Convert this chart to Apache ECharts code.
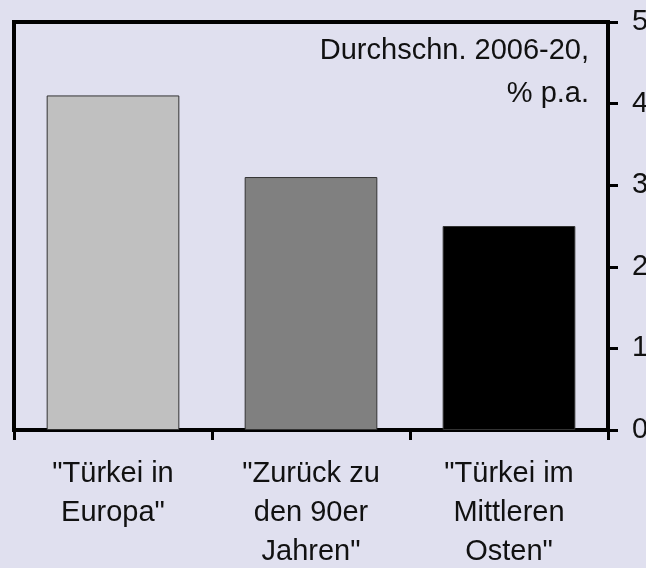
<!DOCTYPE html>
<html>
<head>
<meta charset="utf-8">
<script src="https://cdn.jsdelivr.net/npm/echarts@6/dist/echarts.min.js"></script>
<style>
  html, body { margin: 0; padding: 0; background: #e0e0ef; }
  #chart { width: 646px; height: 568px; }
</style>
</head>
<body>
<div id="chart"></div>
<script>
var categories = ['"Türkei in\nEuropa"', '"Zurück zu\nden 90er\nJahren"', '"Türkei im\nMittleren\nOsten"'];
var values = [4.1, 3.1, 2.5];
var barColors = ['#c0c0c0', '#808080', '#000000'];
var noteLines = ['Durchschn. 2006-20,', '% p.a.'];

var chart = echarts.init(document.getElementById('chart'));
var font = 'Liberation Sans, Arial, sans-serif';

// note in the top right corner, one text element per line so both align right
var noteGraphics = noteLines.map(function (line, i) {
  return {
    type: 'text',
    right: 57,
    top: 36 + i * 43,
    style: { text: line, fontFamily: font, fontSize: 29, fill: '#111' }
  };
});

var option = {
  backgroundColor: '#e0e0ef',
  animation: false,
  grid: {
    left: 14, right: 38, top: 22, bottom: 138,
    outerBoundsMode: 'none',
    containLabel: false,
    show: true,
    borderColor: '#000',
    borderWidth: 4,
    backgroundColor: 'transparent'
  },
  graphic: noteGraphics,
  xAxis: {
    type: 'category',
    data: categories,
    boundaryGap: true,
    axisLine: { lineStyle: { color: '#000', width: 4 } },
    axisTick: { show: true, inside: false, length: 10, alignWithLabel: false, lineStyle: { color: '#000', width: 3 } },
    axisLabel: {
      fontFamily: font, fontSize: 29, color: '#111',
      lineHeight: 39, margin: 24, interval: 0
    }
  },
  yAxis: {
    type: 'value',
    position: 'right',
    min: 0, max: 5, interval: 1,
    splitLine: { show: false },
    axisLine: { show: true, lineStyle: { color: '#000', width: 4 } },
    axisTick: { show: true, inside: false, length: 10, lineStyle: { color: '#000', width: 3 } },
    axisLabel: { fontFamily: font, fontSize: 29, color: '#111', margin: 24 }
  },
  series: [{
    type: 'bar',
    barWidth: '67%',
    data: values.map(function (v, i) {
      return { value: v, itemStyle: { color: barColors[i] } };
    }),
    itemStyle: { borderColor: '#333', borderWidth: 1 }
  }]
};
chart.setOption(option);
</script>
</body>
</html>
